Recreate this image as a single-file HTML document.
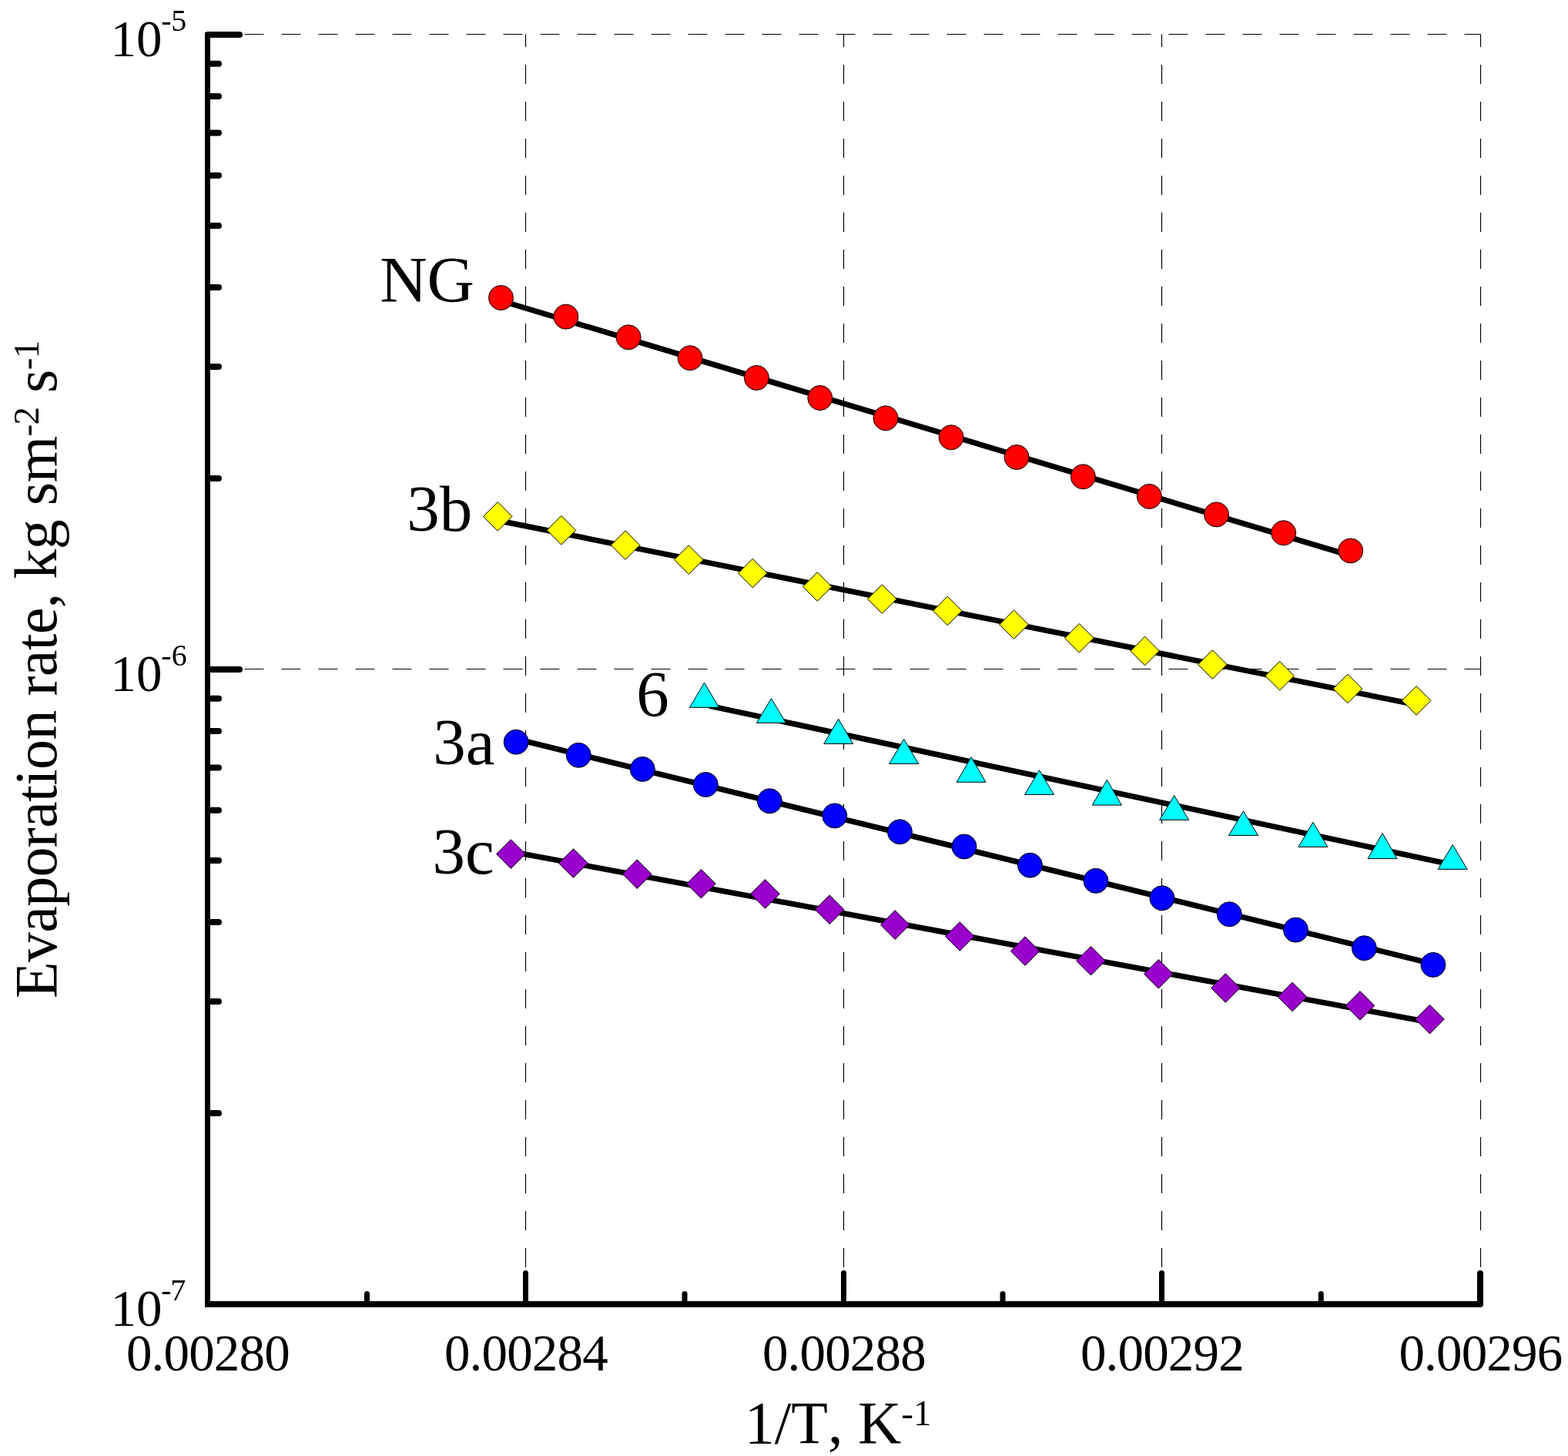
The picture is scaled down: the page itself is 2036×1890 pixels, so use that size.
<!DOCTYPE html><html><head><meta charset="utf-8"><title>Evaporation rate vs 1/T</title>
<style>html,body{margin:0;padding:0;background:#fff;}svg{display:block;}text{font-family:"Liberation Serif","Times New Roman",serif;fill:#000;font-kerning:none;font-feature-settings:"kern" 0,"liga" 0;}</style></head><body>
<svg width="2036" height="1890" viewBox="0 0 2036 1890">
<rect width="2036" height="1890" fill="#fff"/>
<g stroke="#000" stroke-width="1.2" fill="none" stroke-dasharray="25 23">
<line x1="269.5" y1="44.5" x2="1922.5" y2="44.5"/>
<line x1="269.5" y1="868.5" x2="1922.5" y2="868.5"/>
<line x1="682.5" y1="1693" x2="682.5" y2="44.5"/>
<line x1="1095.5" y1="1693" x2="1095.5" y2="44.5"/>
<line x1="1508.5" y1="1693" x2="1508.5" y2="44.5"/>
<line x1="1922.5" y1="1693" x2="1922.5" y2="44.5"/>
</g>
<g stroke="#000" stroke-width="7.2" fill="none">
<line x1="650.5" y1="390.4" x2="1753.7" y2="721.3"/>
<line x1="646.3" y1="675.6" x2="1839.1" y2="914.8"/>
<line x1="670.2" y1="959.2" x2="1860.9" y2="1251.2"/>
<line x1="663.4" y1="1105.5" x2="1856.5" y2="1327.0"/>
<line x1="921" y1="916.2" x2="1886.2" y2="1122.6"/>
</g>
<g stroke="#000" stroke-width="1">
<circle cx="650.5" cy="386.5" r="16" fill="#f00"/>
<circle cx="734.9" cy="411.1" r="16" fill="#f00"/>
<circle cx="816.1" cy="437.8" r="16" fill="#f00"/>
<circle cx="896.0" cy="464.7" r="16" fill="#f00"/>
<circle cx="982.4" cy="490.4" r="16" fill="#f00"/>
<circle cx="1064.8" cy="516.5" r="16" fill="#f00"/>
<circle cx="1150.0" cy="542.8" r="16" fill="#f00"/>
<circle cx="1235.1" cy="567.8" r="16" fill="#f00"/>
<circle cx="1320.1" cy="593.5" r="16" fill="#f00"/>
<circle cx="1406.4" cy="618.8" r="16" fill="#f00"/>
<circle cx="1492.4" cy="644.4" r="16" fill="#f00"/>
<circle cx="1579.5" cy="667.9" r="16" fill="#f00"/>
<circle cx="1666.7" cy="691.8" r="16" fill="#f00"/>
<circle cx="1753.7" cy="714.9" r="16" fill="#f00"/>
<circle cx="670.2" cy="963.2" r="16" fill="#00f"/>
<circle cx="751.3" cy="980.3" r="16" fill="#00f"/>
<circle cx="834.3" cy="998.4" r="16" fill="#00f"/>
<circle cx="916.3" cy="1018.5" r="16" fill="#00f"/>
<circle cx="999.4" cy="1039.8" r="16" fill="#00f"/>
<circle cx="1083.8" cy="1058.9" r="16" fill="#00f"/>
<circle cx="1168.4" cy="1079.8" r="16" fill="#00f"/>
<circle cx="1252.0" cy="1099.0" r="16" fill="#00f"/>
<circle cx="1337.5" cy="1123.2" r="16" fill="#00f"/>
<circle cx="1422.9" cy="1143.3" r="16" fill="#00f"/>
<circle cx="1508.9" cy="1165.8" r="16" fill="#00f"/>
<circle cx="1596.3" cy="1186.8" r="16" fill="#00f"/>
<circle cx="1682.5" cy="1207.1" r="16" fill="#00f"/>
<circle cx="1771.4" cy="1230.7" r="16" fill="#00f"/>
<circle cx="1860.9" cy="1252.4" r="16" fill="#00f"/>
<polygon points="646.3,651.6 665.1,670.4 646.3,689.2 627.5,670.4" fill="#ff0"/>
<polygon points="728.9,669.5 747.7,688.3 728.9,707.1 710.1,688.3" fill="#ff0"/>
<polygon points="812.1,688.8 830.9,707.6 812.1,726.4 793.3,707.6" fill="#ff0"/>
<polygon points="894.3,707.9 913.1,726.7 894.3,745.5 875.5,726.7" fill="#ff0"/>
<polygon points="977.3,725.2 996.1,744.0 977.3,762.8 958.5,744.0" fill="#ff0"/>
<polygon points="1061.3,742.8 1080.1,761.6 1061.3,780.4 1042.5,761.6" fill="#ff0"/>
<polygon points="1145.3,758.8 1164.1,777.6 1145.3,796.4 1126.5,777.6" fill="#ff0"/>
<polygon points="1230.3,774.1 1249.1,792.9 1230.3,811.7 1211.5,792.9" fill="#ff0"/>
<polygon points="1316.5,791.9 1335.3,810.7 1316.5,829.5 1297.7,810.7" fill="#ff0"/>
<polygon points="1401.3,809.5 1420.1,828.3 1401.3,847.1 1382.5,828.3" fill="#ff0"/>
<polygon points="1486.6,826.2 1505.4,845.0 1486.6,863.8 1467.8,845.0" fill="#ff0"/>
<polygon points="1574.3,843.8 1593.1,862.6 1574.3,881.4 1555.5,862.6" fill="#ff0"/>
<polygon points="1661.7,858.5 1680.5,877.3 1661.7,896.1 1642.9,877.3" fill="#ff0"/>
<polygon points="1749.9,875.2 1768.7,894.0 1749.9,912.8 1731.1,894.0" fill="#ff0"/>
<polygon points="1839.1,890.6 1857.9,909.4 1839.1,928.2 1820.3,909.4" fill="#ff0"/>
<polygon points="663.4,1089.8 682.2,1108.6 663.4,1127.4 644.6,1108.6" fill="#90c"/>
<polygon points="744.5,1101.8 763.3,1120.6 744.5,1139.4 725.7,1120.6" fill="#90c"/>
<polygon points="827.3,1115.9 846.1,1134.7 827.3,1153.5 808.5,1134.7" fill="#90c"/>
<polygon points="910.4,1128.4 929.2,1147.2 910.4,1166.0 891.6,1147.2" fill="#90c"/>
<polygon points="993.5,1141.6 1012.3,1160.4 993.5,1179.2 974.7,1160.4" fill="#90c"/>
<polygon points="1077.2,1161.9 1096.0,1180.7 1077.2,1199.5 1058.4,1180.7" fill="#90c"/>
<polygon points="1162.2,1181.8 1181.0,1200.6 1162.2,1219.4 1143.4,1200.6" fill="#90c"/>
<polygon points="1246.2,1196.7 1265.0,1215.5 1246.2,1234.3 1227.4,1215.5" fill="#90c"/>
<polygon points="1331.1,1215.8 1349.9,1234.6 1331.1,1253.4 1312.3,1234.6" fill="#90c"/>
<polygon points="1416.5,1228.4 1435.3,1247.2 1416.5,1266.0 1397.7,1247.2" fill="#90c"/>
<polygon points="1504.3,1245.5 1523.1,1264.3 1504.3,1283.1 1485.5,1264.3" fill="#90c"/>
<polygon points="1591.3,1263.7 1610.1,1282.5 1591.3,1301.3 1572.5,1282.5" fill="#90c"/>
<polygon points="1678.1,1275.2 1696.9,1294.0 1678.1,1312.8 1659.3,1294.0" fill="#90c"/>
<polygon points="1766.0,1286.6 1784.8,1305.4 1766.0,1324.2 1747.2,1305.4" fill="#90c"/>
<polygon points="1856.5,1304.3 1875.3,1323.1 1856.5,1341.9 1837.7,1323.1" fill="#90c"/>
<polygon points="914.5,886.1 933.5,918.3 895.5,918.3" fill="#0ff"/>
<polygon points="1001.5,906.6 1020.5,938.4 982.5,938.4" fill="#0ff"/>
<polygon points="1088.7,933.3 1107.7,965.5 1069.7,965.5" fill="#0ff"/>
<polygon points="1173.7,959.4 1192.7,991.4 1154.7,991.4" fill="#0ff"/>
<polygon points="1261.1,982.8 1280.1,1015.3 1242.1,1015.3" fill="#0ff"/>
<polygon points="1349.5,999.7 1368.5,1031.4 1330.5,1031.4" fill="#0ff"/>
<polygon points="1437.3,1012.3 1456.3,1045.1 1418.3,1045.1" fill="#0ff"/>
<polygon points="1524.7,1032.6 1543.7,1064.3 1505.7,1064.3" fill="#0ff"/>
<polygon points="1614.5,1052.8 1633.5,1084.4 1595.5,1084.4" fill="#0ff"/>
<polygon points="1704.9,1067.3 1723.9,1099.4 1685.9,1099.4" fill="#0ff"/>
<polygon points="1795.1,1081.5 1814.1,1114.6 1776.1,1114.6" fill="#0ff"/>
<polygon points="1886.2,1096.5 1905.2,1128.4 1867.2,1128.4" fill="#0ff"/>
</g>
<g fill="#000"><rect x="266" y="42" width="7" height="1655"/><rect x="266" y="1689" width="1656" height="8"/></g>
<g stroke="#000" fill="none" stroke-linecap="round">
<path d="M270,45H311" stroke-width="8"/>
<path d="M270,869H311" stroke-width="8"/>
<path d="M270,621.0H284" stroke-width="8"/>
<path d="M270,475.9H284" stroke-width="8"/>
<path d="M270,372.9H284" stroke-width="8"/>
<path d="M270,293.0H284" stroke-width="8"/>
<path d="M270,227.8H284" stroke-width="8"/>
<path d="M270,172.6H284" stroke-width="8"/>
<path d="M270,124.9H284" stroke-width="8"/>
<path d="M270,82.7H284" stroke-width="8"/>
<path d="M270,1445.0H284" stroke-width="8"/>
<path d="M270,1299.9H284" stroke-width="8"/>
<path d="M270,1196.9H284" stroke-width="8"/>
<path d="M270,1117.0H284" stroke-width="8"/>
<path d="M270,1051.8H284" stroke-width="8"/>
<path d="M270,996.6H284" stroke-width="8"/>
<path d="M270,948.9H284" stroke-width="8"/>
<path d="M270,906.7H284" stroke-width="8"/>
<path d="M682.5,1690V1652.5" stroke-width="7"/>
<path d="M1095.5,1690V1652.5" stroke-width="7"/>
<path d="M1508.5,1690V1652.5" stroke-width="7"/>
<path d="M1922,1693V1653" stroke-width="8"/>
<path d="M476.5,1690V1679.5" stroke-width="7"/>
<path d="M889,1690V1679.5" stroke-width="7"/>
<path d="M1302,1690V1679.5" stroke-width="7"/>
<path d="M1715.25,1690V1679.5" stroke-width="7"/>
</g>
<text x="143.6" y="72.7" font-size="67">10</text><text x="209.3" y="40" font-size="40">-</text><text x="222.15" y="40" font-size="40">5</text>
<text x="143.6" y="896.7" font-size="67">10</text><text x="209.3" y="864" font-size="40">-</text><text x="222.7" y="864" font-size="40">6</text>
<text x="143.6" y="1720.7" font-size="67">10</text><text x="209.3" y="1688" font-size="40">-</text><text x="221.25" y="1688" font-size="40">7</text>
<text x="269.9" y="1779.1" text-anchor="middle" font-size="67" letter-spacing="-0.83">0.00280</text>
<text x="682.9" y="1779.1" text-anchor="middle" font-size="67" letter-spacing="-0.83">0.00284</text>
<text x="1095.9" y="1779.1" text-anchor="middle" font-size="67" letter-spacing="-0.83">0.00288</text>
<text x="1508.9" y="1779.1" text-anchor="middle" font-size="67" letter-spacing="-0.83">0.00292</text>
<text x="1922.4" y="1779.1" text-anchor="middle" font-size="67" letter-spacing="-0.83">0.00296</text>
<text x="966.7" y="1873" font-size="78">1/T, K<tspan font-size="47" dy="-22.8">-1</tspan></text>
<text transform="translate(73,1296) rotate(-90)" font-size="78" letter-spacing="-0.68">Evaporation rate, kg sm<tspan font-size="47" dy="-23">-2</tspan><tspan dy="23"> s</tspan><tspan font-size="47" dy="-23">-1</tspan></text>
<text x="493.2" y="391.9" font-size="85">NG</text>
<text x="528.3" y="689.4" font-size="85">3b</text>
<text x="826.2" y="930" font-size="85">6</text>
<text x="562.2" y="992" font-size="85">3a</text>
<text x="561.6" y="1134.1" font-size="85">3c</text>
</svg></body></html>
